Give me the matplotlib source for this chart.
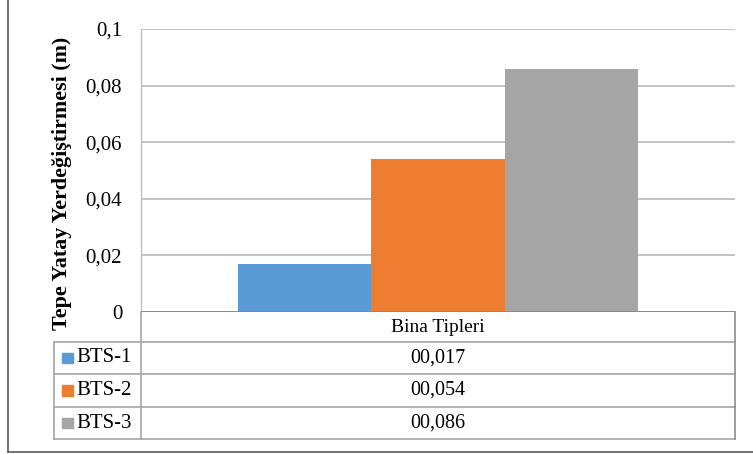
import numpy as np
import matplotlib.pyplot as plt
from matplotlib.lines import Line2D
from matplotlib.patches import Rectangle
from matplotlib.ticker import FuncFormatter

plt.rcParams['font.family'] = ['Liberation Serif', 'DejaVu Serif']

# data
category = 'Bina Tipleri'
series = ['BTS-1', 'BTS-2', 'BTS-3']
values = [0.017, 0.054, 0.086]
colors = ['#5B9BD5', '#ED7D31', '#A5A5A5']
ylabel = 'Tepe Yatay Yerdeğiştirmesi (m)'

W, H = 753, 454
fig = plt.figure(figsize=(W/100, H/100), dpi=100)

def fx(x):
    return x / W

def fy(y):
    return 1 - y / H

# plot area in pixels
left, right, top, base = 141, 735, 29, 312
ax = fig.add_axes([fx(left), fy(base), fx(right - left), (base - top) / H])

bw = 0.224
xs = 0.5 + (np.arange(len(values)) - 1) * bw
ax.bar(xs, values, width=bw, color=colors, zorder=3)
ax.set_xlim(0, 1)
ax.set_ylim(0, 0.1)
ax.set_yticks(np.arange(0, 0.101, 0.02))
ax.yaxis.set_major_formatter(FuncFormatter(lambda v, p: f'{round(v, 3):g}'.replace('.', ',')))
ax.tick_params(axis='y', length=0, pad=13.5, labelsize=15)
ax.set_xticks([])
ax.grid(axis='y', color='#BFBFBF', lw=1.3, zorder=0)
for s in ['top', 'right', 'bottom']:
    ax.spines[s].set_visible(False)
ax.spines['left'].set_color('#BFBFBF')
ax.spines['left'].set_linewidth(1.0)
ax.axhline(0, color='#868686', lw=1.3, zorder=4)

fig.text(fx(62), fy(183), ylabel, rotation=90, ha='center', va='center',
         fontsize=15.8, fontweight='bold')

# data table under the axis
def hline(y, x0, x1, c='#A6A6A6'):
    fig.add_artist(Line2D([fx(x0), fx(x1)], [fy(y), fy(y)], color=c, lw=1.2))

def vline(x, y0, y1, c='#A6A6A6'):
    fig.add_artist(Line2D([fx(x), fx(x)], [fy(y0), fy(y1)], color=c, lw=1.2))

rows = [312, 342, 374, 407, 439]
tleft = 54
for y in rows[1:]:
    hline(y, tleft, right)
vline(left, base, rows[-1])
vline(right, base, rows[-1], '#8C8C8C')
vline(tleft, rows[1], rows[-1])

cx = (left + right) / 2
fig.text(fx(cx), fy((rows[0] + rows[1]) / 2), category, ha='center', va='center', fontsize=14)
for i, (name, v, c) in enumerate(zip(series, values, colors)):
    yc = (rows[i + 1] + rows[i + 2]) / 2
    fig.add_artist(Rectangle((fx(62), fy(yc + 5)), fx(10.5), 10.5 / H, color=c,
                             transform=fig.transFigure))
    fig.text(fx(76.5), fy(yc), name, ha='left', va='center', fontsize=15)
    fig.text(fx(cx), fy(yc), ('0' + f'{v:.3f}').replace('.', ','),
             ha='center', va='center', fontsize=14.5)

# chart border
fig.add_artist(Line2D([fx(8), fx(8)], [fy(0), fy(452)], color='#595959', lw=1.2))
fig.add_artist(Line2D([fx(8), fx(W)], [fy(452), fy(452)], color='#595959', lw=1.2))

fig.savefig('out.png', dpi=100)
